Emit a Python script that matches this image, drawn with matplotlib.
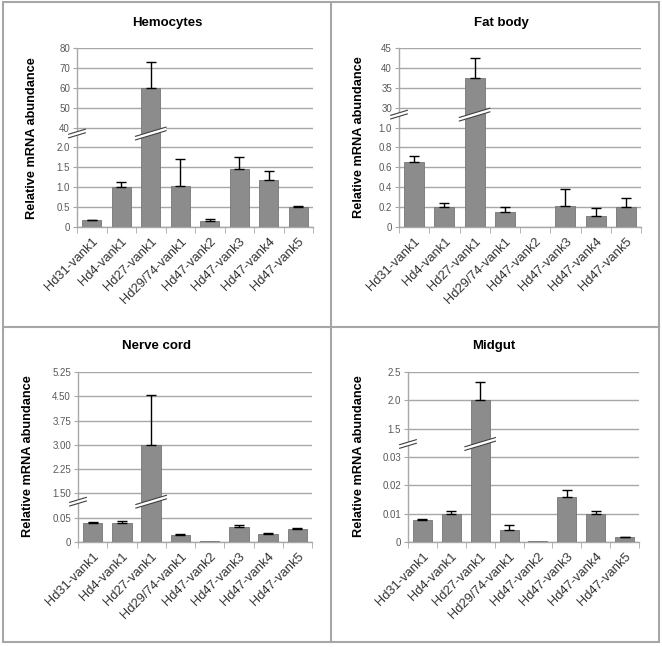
import matplotlib
matplotlib.use('Agg')
from matplotlib import pyplot as plt, transforms as mt, patches as pa, lines as ml
import numpy as np

# Data
genes = ['Hd31-vank1', 'Hd4-vank1', 'Hd27-vank1', 'Hd29/74-vank1',
         'Hd47-vank2', 'Hd47-vank3', 'Hd47-vank4', 'Hd47-vank5']

hemo_vals = [0.17, 1.00, 60.0, 1.04, 0.15, 1.45, 1.19, 0.50]
hemo_err = [0.01, 0.12, 13.0, 0.67, 0.05, 0.32, 0.22, 0.03]
hemo_ticks = [0, 0.5, 1.0, 1.5, 2.0, 40, 50, 60, 70, 80]
hemo_labels = ['0', '0.5', '1.0', '1.5', '2.0', '40', '50', '60', '70', '80']

fat_vals = [0.65, 0.20, 37.4, 0.15, 0.005, 0.21, 0.11, 0.20]
fat_err = [0.06, 0.04, 5.0, 0.05, 0.0, 0.17, 0.08, 0.09]
fat_ticks = [0, 0.2, 0.4, 0.6, 0.8, 1.0, 30, 35, 40, 45]
fat_labels = ['0', '0.2', '0.4', '0.6', '0.8', '1.0', '30', '35', '40', '45']

nerve_vals = [0.039, 0.039, 3.0, 0.0135, 0.002, 0.030, 0.0155, 0.027]
nerve_err = [0.003, 0.004, 1.55, 0.0025, 0.0, 0.004, 0.004, 0.002]
nerve_ticks = [0, 0.05, 1.50, 2.25, 3.00, 3.75, 4.50, 5.25]
nerve_labels = ['0', '0.05', '1.50', '2.25', '3.00', '3.75', '4.50', '5.25']

mid_vals = [0.0078, 0.0100, 2.0, 0.0041, 0.0002, 0.0160, 0.0100, 0.0016]
mid_err = [0.0004, 0.0010, 0.32, 0.0020, 0.0, 0.0025, 0.0010, 0.0003]
mid_ticks = [0, 0.01, 0.02, 0.03, 1.5, 2.0, 2.5]
mid_labels = ['0', '0.01', '0.02', '0.03', '1.5', '2.0', '2.5']

# broken axis: data knots -> evenly spaced scale units
hemo_knots = ([0, 2.0, 40, 80], [0, 4, 5, 9])
fat_knots = ([0, 1.0, 30, 45], [0, 5, 6, 9])
nerve_knots = ([0, 0.05, 1.5, 5.25], [0, 1, 2, 7])
mid_knots = ([0, 0.03, 1.5, 2.5], [0, 3, 4, 6])

# Style
plt.rcParams.update({
    'font.family': ['Liberation Sans', 'DejaVu Sans'],
    'font.size': 9,
})
W, H = 662, 647
fig = plt.figure(figsize=(W / 100, H / 100), dpi=100)

bar_color = '#8c8c8c'
grid_color = '#a8a8a8'
text_gray = '#595959'


def px_rect(l, t, r, b):
    return [l / W, 1 - b / H, (r - l) / W, (b - t) / H]


def break_mark(ax, x0, y0, hw, slope=0.3, gap=2.6):
    tr = mt.Affine2D().scale(fig.dpi / 72) + mt.ScaledTranslation(x0, y0, ax.transData)
    lo = [(-hw, -hw * slope - gap / 2), (hw, hw * slope - gap / 2)]
    hi = [(hw, hw * slope + gap / 2), (-hw, -hw * slope + gap / 2)]
    ax.add_patch(pa.Polygon(lo + hi, closed=True, facecolor='white', edgecolor='none',
                            transform=tr, clip_on=False, zorder=6))
    for seg in (lo, hi):
        xs, ys = zip(*seg)
        ax.add_line(ml.Line2D(xs, ys, color='#404040', lw=0.8, transform=tr,
                              clip_on=False, zorder=7))


def draw_panel(rect, title, title_xy, ylab_xy, vals, errs, ticks, labels, knots, brk_frac):
    ax = fig.add_axes(rect)
    dk, uk = knots
    fwd = lambda v: np.interp(v, dk, uk)
    inv = lambda u: np.interp(u, uk, dk)
    ax.set_yscale('function', functions=(fwd, inv))
    x = np.arange(len(genes))
    ax.bar(x, vals, width=0.66, color=bar_color, edgecolor='#767676', linewidth=0.6, zorder=3)
    vals = np.array(vals)
    errs = np.array(errs)
    m = errs > 0
    ax.errorbar(x[m], vals[m], yerr=[np.zeros(m.sum()), errs[m]], fmt='none',
                ecolor='black', elinewidth=1.0, capsize=3.5, capthick=1.0, zorder=4)
    ax.set_xlim(-0.5, len(genes) - 0.5)
    ax.set_ylim(0, ticks[-1])
    ax.set_yticks(ticks)
    ax.set_yticklabels(labels)
    ax.set_xticks(x)
    ax.set_xticklabels(genes, rotation=45, ha='right', rotation_mode='anchor', color='#333333')
    ax.set_xticks(np.arange(len(genes) + 1) - 0.5, minor=True)
    ax.tick_params(axis='x', which='major', length=0, pad=6, labelsize=9.3)
    ax.tick_params(axis='x', which='minor', length=4, color=grid_color, direction='out')
    ax.tick_params(axis='y', length=3, color=grid_color, labelsize=7, labelcolor=text_gray, pad=2)
    for s in ['top', 'right']:
        ax.spines[s].set_visible(False)
    for s in ['left', 'bottom']:
        ax.spines[s].set_color(grid_color)
        ax.spines[s].set_linewidth(1.0)
    ax.yaxis.grid(True, color=grid_color, linewidth=1.0)
    ax.set_axisbelow(True)
    # break marks on axis and on the tall bar
    ybrk = inv(uk[1] + brk_frac)
    break_mark(ax, -0.5, ybrk, 6)
    break_mark(ax, 2, ybrk, 11)
    fig.text(title_xy[0] / W, 1 - title_xy[1] / H, title, ha='center', va='center',
             fontsize=9.5, fontweight='bold')
    fig.text(ylab_xy[0] / W, 1 - ylab_xy[1] / H, 'Relative mRNA abundance', rotation=90,
             ha='center', va='center', fontsize=9.2, fontweight='bold')
    return ax


draw_panel(px_rect(77, 48, 313, 227), 'Hemocytes', (167, 23), (32, 138),
           hemo_vals, hemo_err, hemo_ticks, hemo_labels, hemo_knots, 0.7)
draw_panel(px_rect(399, 48, 641, 227), 'Fat body', (501, 23), (359, 137),
           fat_vals, fat_err, fat_ticks, fat_labels, fat_knots, 0.65)
draw_panel(px_rect(78, 372, 312, 542), 'Nerve cord', (157, 346), (28, 456),
           nerve_vals, nerve_err, nerve_ticks, nerve_labels, nerve_knots, 0.66)
draw_panel(px_rect(408, 372, 639, 542), 'Midgut', (494, 346), (359, 456),
           mid_vals, mid_err, mid_ticks, mid_labels, mid_knots, 0.46)

# Panel borders
border = '#a6a6a6'
fig.add_artist(pa.Rectangle((3 / W, 1 - 642 / H), 656 / W, 640 / H, transform=fig.transFigure,
                            facecolor='none', edgecolor=border, lw=1.5))
fig.add_artist(ml.Line2D([3 / W, 659 / W], [1 - 327 / H] * 2, transform=fig.transFigure,
                         color=border, lw=1.5))
fig.add_artist(ml.Line2D([331 / W] * 2, [1 - 2 / H, 1 - 642 / H], transform=fig.transFigure,
                         color=border, lw=1.5))

fig.savefig('out.png', dpi=100)
